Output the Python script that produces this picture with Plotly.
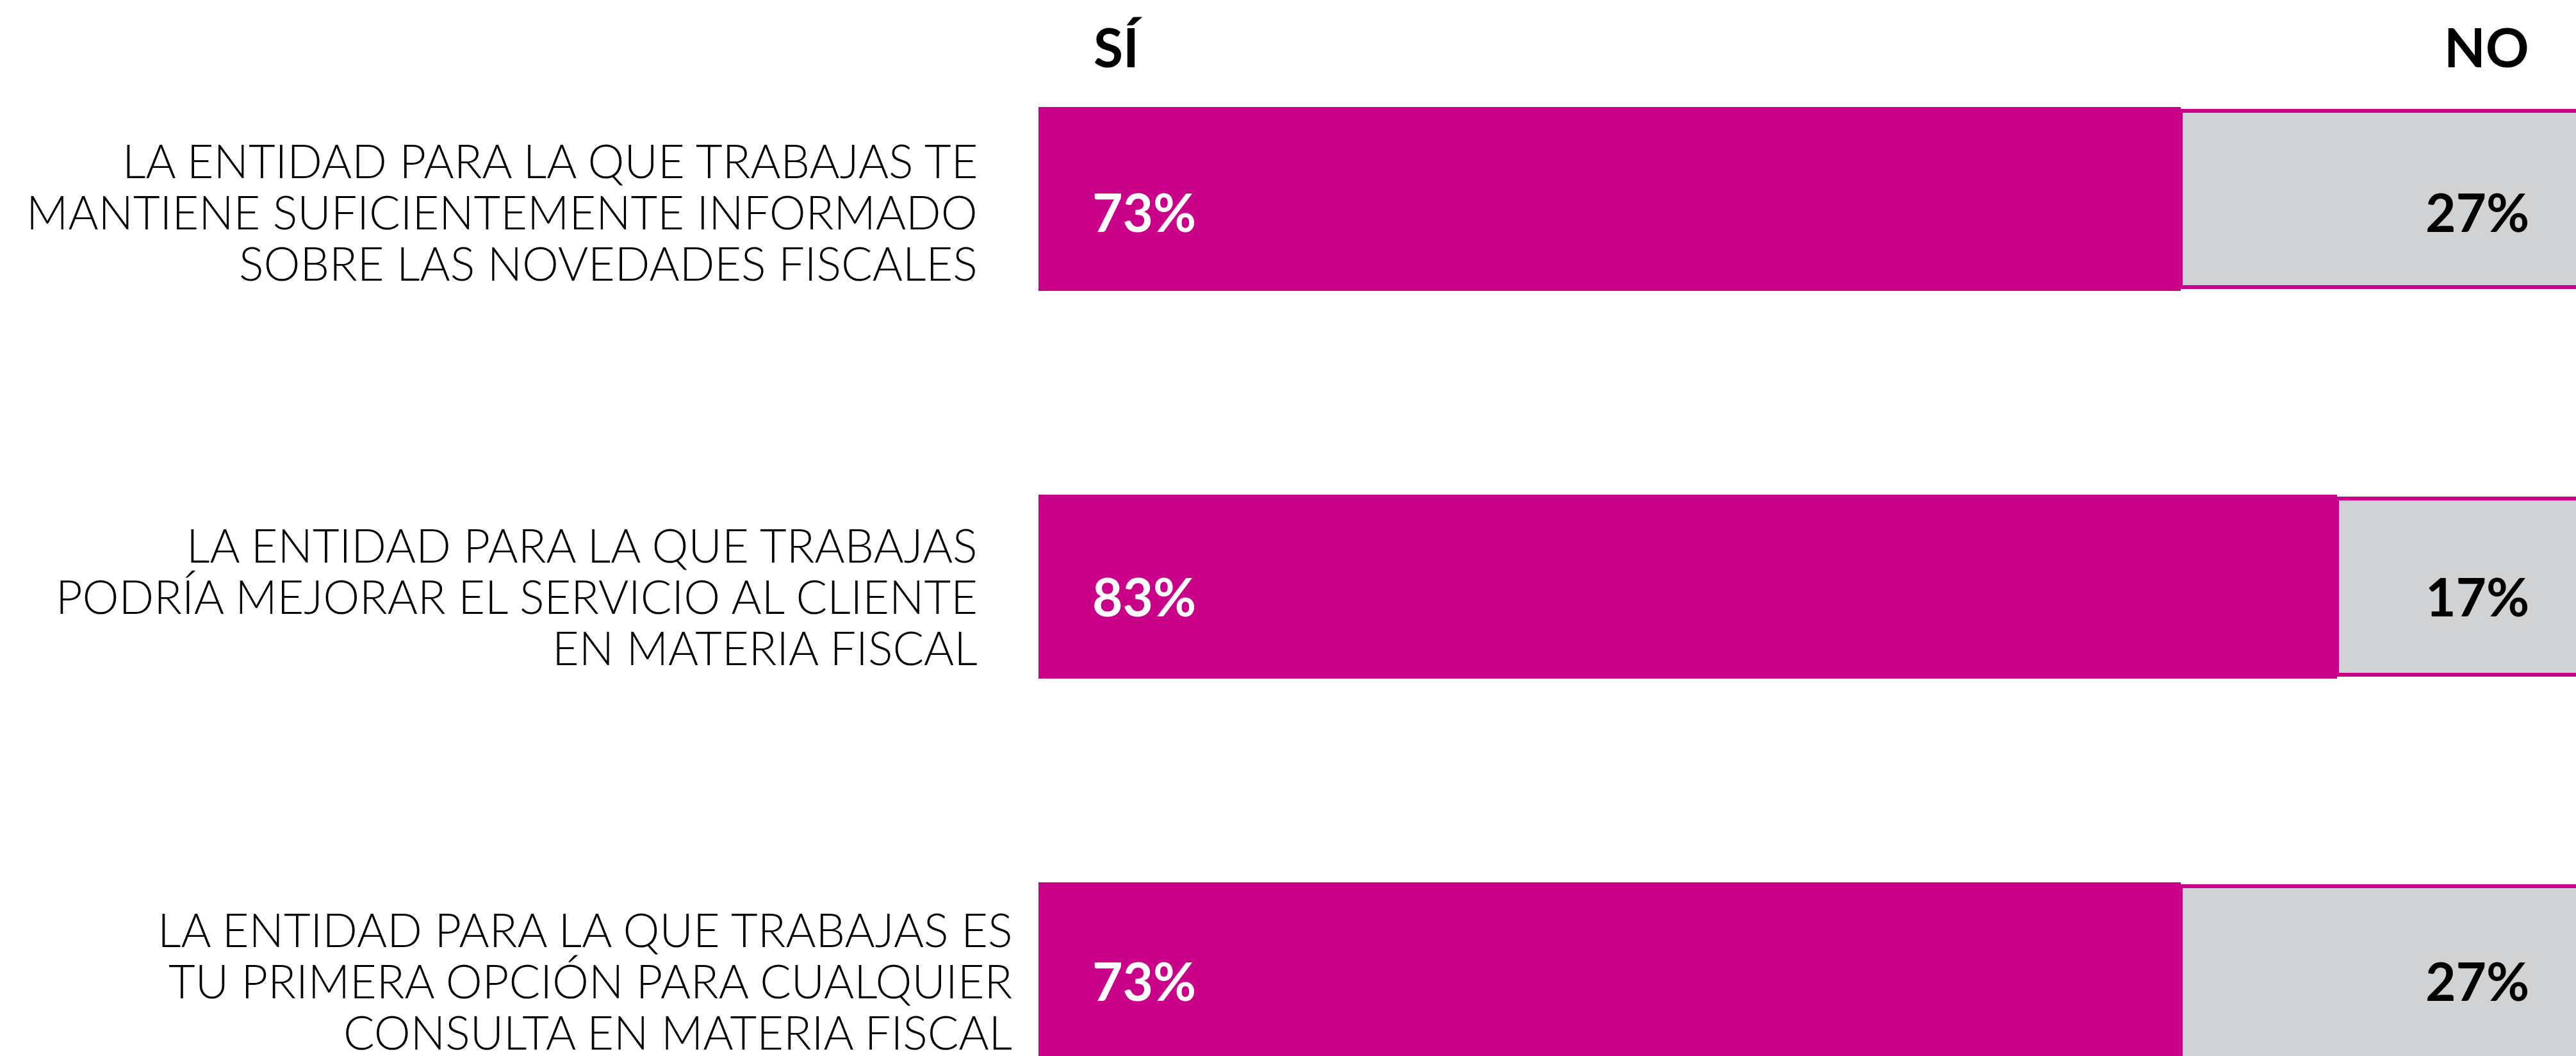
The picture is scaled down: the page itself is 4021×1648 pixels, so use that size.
import plotly.graph_objects as go

# Survey statements (line breaks as printed), and the share of SÍ / NO answers
categories = [
    "LA ENTIDAD PARA LA QUE TRABAJAS TE<br>MANTIENE SUFICIENTEMENTE INFORMADO<br>SOBRE LAS NOVEDADES FISCALES",
    "LA ENTIDAD PARA LA QUE TRABAJAS<br>PODRÍA MEJORAR EL SERVICIO AL CLIENTE<br>EN MATERIA FISCAL",
    "LA ENTIDAD PARA LA QUE TRABAJAS ES<br>TU PRIMERA OPCIÓN PARA CUALQUIER<br>CONSULTA EN MATERIA FISCAL",
]
si_values = [73, 83, 73]
no_values = [27, 17, 27]
series_names = ["SÍ", "NO"]

# ---- styling -------------------------------------------------------------
MAGENTA = "#C90088"
GREY = "#D1D2D4"
FONT = "Lato"

W, H = 4021, 1648
PLOT_LEFT = 1621          # left edge of the bars
ROW_PX = 605              # distance between bar centres
FIRST_ROW_PX = 310        # centre of the first bar from the top
FULL_PX = 2442            # length of a 100 % bar

x_max = (W - PLOT_LEFT) / FULL_PX * 100
y_top = -FIRST_ROW_PX / ROW_PX
y_bottom = (H - FIRST_ROW_PX) / ROW_PX

rows = list(range(len(categories)))
text_drop = [20, 15, 10]          # text sits slightly below each bar centre
label_gap = [-93, -93, -39]       # right edge of the statement text
line_pitch = 80

fig = go.Figure()
fig.add_trace(go.Bar(
    y=rows, x=si_values, orientation="h", name=series_names[0],
    width=287 / ROW_PX,
    marker=dict(color=MAGENTA, line=dict(width=0)),
    hoverinfo="skip",
))
fig.add_trace(go.Bar(
    y=rows, x=no_values, base=si_values, orientation="h", name=series_names[1],
    width=275 / ROW_PX,
    marker=dict(color=GREY, line=dict(color=MAGENTA, width=6)),
    hoverinfo="skip",
))

annotations = []

# column headers
annotations.append(dict(
    text=f"<b>{series_names[0]}</b>", xref="x", x=0, xshift=84, xanchor="left",
    yref="y", y=y_top, yshift=-72, yanchor="middle", showarrow=False,
    font=dict(family=FONT, size=84, color="black"),
))
annotations.append(dict(
    text=f"<b>{series_names[1]}</b>", xref="paper", x=1, xshift=-71, xanchor="right",
    yref="y", y=y_top, yshift=-72, yanchor="middle", showarrow=False,
    font=dict(family=FONT, size=84, color="black"),
))

for i, (cat, si, no) in enumerate(zip(categories, si_values, no_values)):
    # statement text, one line per annotation for tight leading
    for j, line in enumerate(cat.split("<br>")):
        annotations.append(dict(
            text=line, xref="x", x=0, xshift=label_gap[i], xanchor="right",
            yref="y", y=i, yshift=-(text_drop[i] + (j - 1) * line_pitch),
            yanchor="middle", showarrow=False,
            font=dict(family=FONT, size=72, color="black", weight=300),
        ))
    # SÍ share inside the magenta bar
    annotations.append(dict(
        text=f"<b>{si}%</b>", xref="x", x=0, xshift=82, xanchor="left",
        yref="y", y=i, yshift=-text_drop[i], yanchor="middle", showarrow=False,
        font=dict(family=FONT, size=82, color="white"),
    ))
    # NO share at the right end
    annotations.append(dict(
        text=f"<b>{no}%</b>", xref="paper", x=1, xshift=-71, xanchor="right",
        yref="y", y=i, yshift=-text_drop[i], yanchor="middle", showarrow=False,
        font=dict(family=FONT, size=82, color="black"),
    ))

fig.update_layout(
    width=W, height=H,
    margin=dict(l=PLOT_LEFT, r=0, t=0, b=0, pad=0),
    paper_bgcolor="white", plot_bgcolor="white",
    barmode="overlay", bargap=0, showlegend=False,
    xaxis=dict(range=[0, x_max], visible=False, fixedrange=True),
    yaxis=dict(range=[y_bottom, y_top], visible=False, fixedrange=True),
    annotations=annotations,
)

fig.write_html("out.html", config={"displayModeBar": False})
